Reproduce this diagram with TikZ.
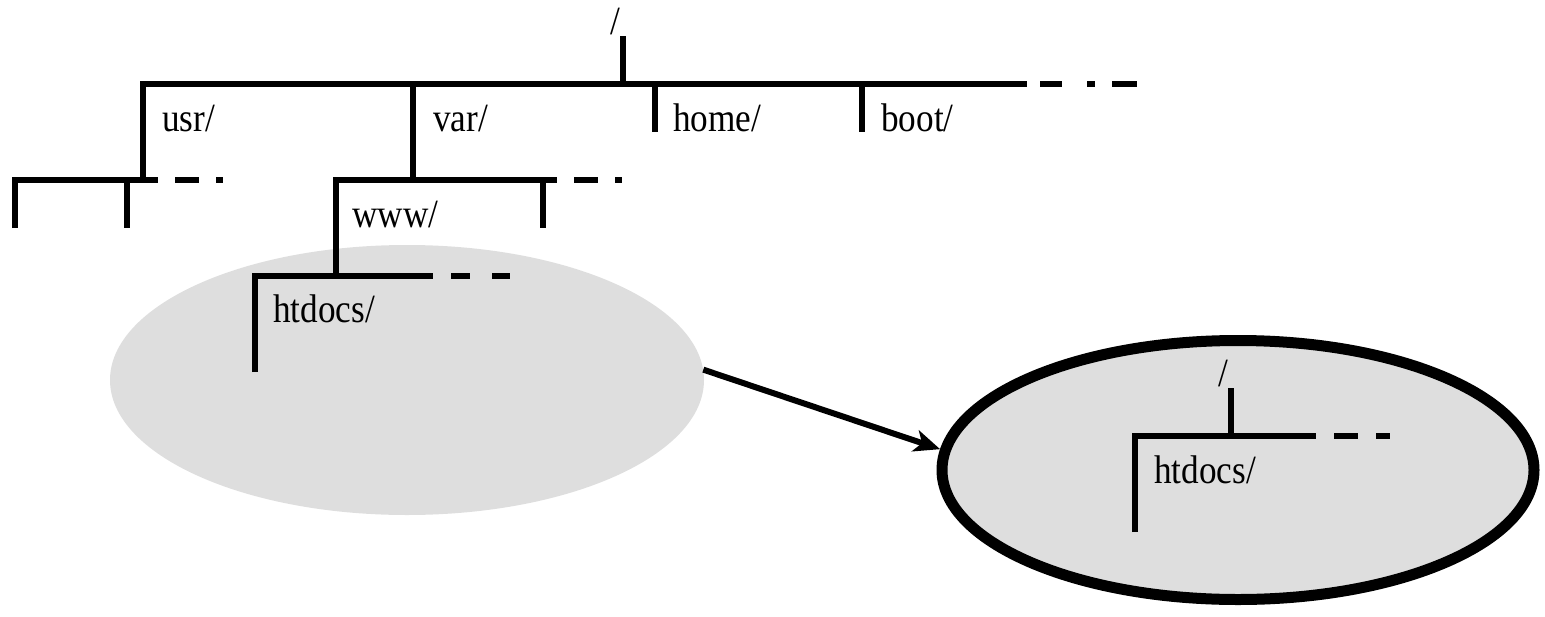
\documentclass[tikz,border=0pt]{standalone}
\usepackage{fontspec}
\setmainfont[FakeStretch=0.88]{Liberation Serif}
\usetikzlibrary{shapes.geometric,arrows.meta}
\begin{document}
\begin{tikzpicture}[x=1pt,y=-1pt,
  tree/.style={line width=6pt},
  lbl/.style={anchor=base west, inner sep=0pt, font=\fontsize{40}{46}\selectfont},
  blob/.style={ellipse, fill=black!13, inner sep=0pt},
  link/.style={line width=6pt, -{Stealth[length=26pt,width=22pt,inset=7pt]}}]
\useasboundingbox (0,0) rectangle (1545,616);
% ellipses
\node[blob, minimum width=594pt, minimum height=270pt] (srcell) at (407,380) {};
\node[blob, draw=black, line width=11pt, minimum width=592pt, minimum height=259pt] (dstell) at (1238,470) {};
% root
\node[lbl] (rootlbl) at (610,34.5) {/};
\coordinate (r0) at (623,36);
\coordinate (r1) at (623,84);
\draw[tree] (r0) -- (r1);
\coordinate (usrtop) at (143,84);
\coordinate (topend) at (1027,84);
\draw[tree] (143,180) -- (usrtop) -- (topend);
\draw[tree] (1040,84) -- (1062,84);
\draw[tree] (1087,84) -- (1095,84);
\draw[tree] (1112,84) -- (1137,84);
\draw[tree] (413,84) -- (413,180);
\draw[tree] (655,84) -- (655,132);
\draw[tree] (862,84) -- (862,132);
\node[lbl] (usrlbl) at (162,131) {usr/};
\node[lbl] (varlbl) at (433,131) {var/};
\node[lbl] (homelbl) at (673,131) {home/};
\node[lbl] (bootlbl) at (881,131) {boot/};
% usr subtree
\draw[tree] (15,228) -- (15,180) -- (158,180);
\draw[tree] (175,180) -- (199,180);
\draw[tree] (216,180) -- (223,180);
\draw[tree] (127,180) -- (127,228);
% var subtree
\draw[tree] (336,276) -- (336,180) -- (557,180);
\draw[tree] (574,180) -- (598,180);
\draw[tree] (615,180) -- (622,180);
\draw[tree] (543,180) -- (543,228);
\node[lbl] (wwwlbl) at (352,227) {www/};
% www subtree
\draw[tree] (255,372) -- (255,276) -- (433,276);
\draw[tree] (451,276) -- (470,276);
\draw[tree] (492,276) -- (510,276);
\node[lbl] (htlbl) at (273,322) {htdocs/};
% right tree
\node[lbl] (root2lbl) at (1218,386) {/};
\draw[tree] (1231,388) -- (1231,436);
\draw[tree] (1135,532) -- (1135,436) -- (1316,436);
\draw[tree] (1334,436) -- (1358,436);
\draw[tree] (1376,436) -- (1390,436);
\node[lbl] (ht2lbl) at (1154,483) {htdocs/};
% arrow
\draw[link] (srcell.2) -- (dstell.176);
\end{tikzpicture}
\end{document}
